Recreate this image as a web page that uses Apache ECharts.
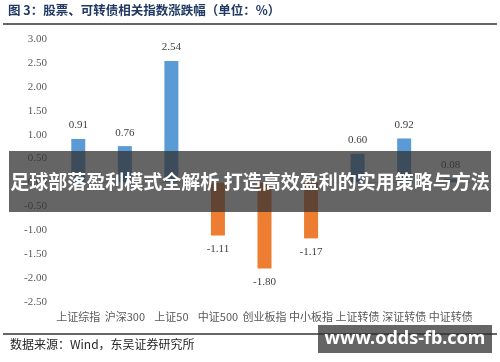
<!DOCTYPE html>
<html><head><meta charset="utf-8">
<script src="https://cdn.jsdelivr.net/npm/echarts@6/dist/echarts.min.js"></script>
<style>html,body{margin:0;padding:0;background:#fff}#c{width:500px;height:362px}</style>
</head><body><div id="c"></div>
<script>
const categories = ['上证综指','沪深300','上证50','中证500','创业板指','中小板指','上证转债','深证转债','中证转债'];
const values = [0.91, 0.76, 2.54, -1.11, -1.80, -1.17, 0.60, 0.92, 0.08];
const yMin = -2.5, yMax = 3.0, yStep = 0.5;
const titleText = '图 3：股票、可转债相关指数涨跌幅（单位：%）';
const sourceText = '数据来源：Wind，东吴证券研究所';
const bannerText = '足球部落盈利模式全解析 打造高效盈利的实用策略与方法';
const watermarkText = 'www.odds-fb.com';

const chart = echarts.init(document.getElementById('c'), null, {renderer:'canvas'});
chart.setOption({
  animation:false,
  backgroundColor:'#fff',
  grid:{left:55, right:26, top:39, bottom:60},
  xAxis:{type:'category', data:categories, position:'bottom',
    axisLine:{show:false, onZero:false}, axisTick:{show:false},
    axisLabel:{interval:0, margin:9, color:'#595959', fontSize:11, fontFamily:'Noto Sans CJK SC'}},
  yAxis:{type:'value', min:yMin, max:yMax, interval:yStep,
    axisLine:{show:false}, axisTick:{show:false}, splitLine:{show:false},
    axisLabel:{formatter:v=>v.toFixed(2), color:'#595959', fontSize:11, fontFamily:'Liberation Serif', margin:8}},
  series:[{type:'bar',
    data:values.map(v=>({value:v, itemStyle:{color: v>=0 ? '#5B9BD5' : '#ED7D31'}, label:{position: v>=0 ? 'top' : 'bottom'}})),
    barWidth:14,
    label:{show:true, formatter:p=>p.value.toFixed(2), color:'#404040', fontSize:11, fontFamily:'Liberation Serif', distance:8},
    markLine:{silent:true, symbol:'none', label:{show:false}, lineStyle:{color:'#d9d9d9', type:'solid', width:1}, data:[{yAxis:0}]}
  }],
  graphic:[
    {type:'text', left:8, top:4, z:100, style:{text:titleText, fill:'#1F3864', font:'bold 12.5px "Noto Sans CJK SC"'}},
    {type:'line', z:100, shape:{x1:3, y1:24, x2:497, y2:24}, style:{stroke:'#333', lineWidth:1.5}},
    {type:'line', z:100, shape:{x1:3, y1:334, x2:497, y2:334}, style:{stroke:'#333', lineWidth:1.5}},
    {type:'text', left:10, top:338, z:100, style:{text:sourceText, fill:'#262626', font:'12px "Noto Sans CJK SC"'}},
    {type:'rect', z:100, shape:{x:9, y:151, width:482, height:61}, style:{fill:'rgba(50,50,50,0.75)'}},
    {type:'text', z:101, x:250, y:182, style:{text:bannerText, fill:'#fff', font:'bold 19px "Noto Sans CJK SC"', textAlign:'center', textVerticalAlign:'middle'}},
    {type:'rect', z:100, shape:{x:318, y:325, width:174, height:28}, style:{fill:'rgba(50,50,50,0.75)'}},
    {type:'text', z:101, x:405, y:339, style:{text:watermarkText, fill:'#fff', font:'bold 18px "Noto Sans"', textAlign:'center', textVerticalAlign:'middle'}}
  ]
});
</script></body></html>
